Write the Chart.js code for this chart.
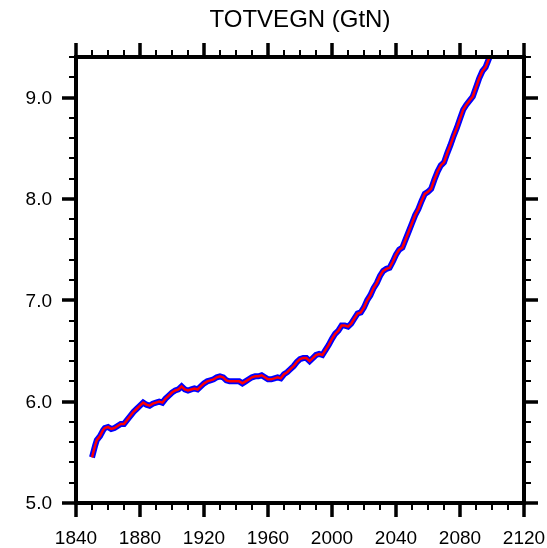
<!DOCTYPE html>
<html>
<head>
<meta charset="utf-8">
<script src="https://cdn.jsdelivr.net/npm/chart.js@4/dist/chart.umd.min.js"></script>
<style>
  html, body { margin: 0; padding: 0; background: #ffffff; }
  #wrap { width: 547px; height: 548px; position: relative; }
</style>
</head>
<body>
<div id="wrap"><canvas id="c" width="547" height="548"></canvas></div>
<script>
const chartTitle = "TOTVEGN (GtN)";
const years = [1850,1852,1853,1855,1857,1858,1860,1862,1864,1866,1868,1870,1872,1874,1876,1878,1880,1882,1884,1886,1888,1890,1892,1894,1896,1898,1900,1902,1904,1906,1908,1910,1912,1914,1916,1918,1920,1922,1924,1926,1928,1930,1932,1934,1936,1938,1940,1942,1944,1946,1948,1950,1952,1954,1956,1958,1960,1962,1964,1966,1968,1970,1972,1974,1976,1978,1980,1982,1984,1986,1988,1990,1992,1994,1996,1998,2000,2002,2004,2006,2008,2010,2012,2014,2016,2018,2020,2022,2024,2026,2028,2030,2032,2034,2036,2038,2040,2042,2044,2046,2048,2050,2052,2054,2056,2058,2060,2062,2064,2066,2068,2070,2072,2074,2076,2078,2080,2082,2084,2086,2088,2090,2092,2094,2096,2098,2100];
const totvegn = [5.45,5.57,5.62,5.66,5.72,5.74,5.75,5.73,5.74,5.76,5.78,5.78,5.82,5.86,5.90,5.93,5.96,5.99,5.97,5.96,5.98,5.99,6.00,5.99,6.03,6.06,6.09,6.11,6.12,6.15,6.12,6.11,6.12,6.13,6.12,6.15,6.18,6.20,6.21,6.22,6.24,6.25,6.24,6.21,6.20,6.20,6.20,6.20,6.18,6.20,6.22,6.24,6.25,6.25,6.26,6.24,6.22,6.22,6.23,6.24,6.23,6.27,6.29,6.32,6.35,6.39,6.42,6.43,6.43,6.40,6.43,6.46,6.47,6.46,6.51,6.56,6.62,6.67,6.70,6.75,6.75,6.74,6.77,6.82,6.87,6.88,6.93,7.00,7.05,7.12,7.17,7.24,7.29,7.31,7.32,7.38,7.45,7.50,7.52,7.60,7.68,7.76,7.84,7.90,7.98,8.05,8.07,8.10,8.19,8.27,8.33,8.36,8.45,8.53,8.62,8.70,8.79,8.88,8.93,8.97,9.01,9.10,9.19,9.26,9.30,9.38,9.45];
const xMajorTicks = [1840,1880,1920,1960,2000,2040,2080,2120];
const xMinorStep = 10;
const yMajorTicks = [5.0,6.0,7.0,8.0,9.0];
const yMinorStep = 0.2;
const xRange = [1840, 2120];
const yRange = [5.0, 9.4];

const points = years.map((y, i) => ({ x: y, y: totvegn[i] }));
const FONT = '"Liberation Sans", Arial, Helvetica, sans-serif';

const framePlugin = {
  id: 'frame',
  afterDatasetsDraw(chart) {
    const ctx = chart.ctx;
    const a = chart.chartArea;
    const xs = chart.scales.x, ys = chart.scales.y;
    ctx.save();
    ctx.strokeStyle = '#000';
    ctx.lineCap = 'butt';
    ctx.lineWidth = 2;
    for (let v = xRange[0]; v <= xRange[1] + 1e-6; v += xMinorStep) {
      if (xMajorTicks.includes(v)) continue;
      const px = Math.round(xs.getPixelForValue(v));
      ctx.beginPath();
      ctx.moveTo(px, a.bottom); ctx.lineTo(px, a.bottom + 7);
      ctx.moveTo(px, a.top); ctx.lineTo(px, a.top - 7);
      ctx.stroke();
    }
    for (let k = 0; ; k++) {
      const v = +(yRange[0] + k * yMinorStep).toFixed(4);
      if (v > yRange[1] + 1e-6) break;
      if (yMajorTicks.some(m => Math.abs(m - v) < 1e-6)) continue;
      const py = Math.round(ys.getPixelForValue(v));
      ctx.beginPath();
      ctx.moveTo(a.left, py); ctx.lineTo(a.left - 7, py);
      ctx.moveTo(a.right, py); ctx.lineTo(a.right + 7, py);
      ctx.stroke();
    }
    ctx.lineWidth = 3.5;
    xMajorTicks.forEach(v => {
      const px = Math.round(xs.getPixelForValue(v));
      ctx.beginPath();
      ctx.moveTo(px, a.bottom); ctx.lineTo(px, a.bottom + 14);
      ctx.moveTo(px, a.top); ctx.lineTo(px, a.top - 14);
      ctx.stroke();
    });
    yMajorTicks.forEach(v => {
      const py = Math.round(ys.getPixelForValue(v));
      ctx.beginPath();
      ctx.moveTo(a.left, py); ctx.lineTo(a.left - 14, py);
      ctx.moveTo(a.right, py); ctx.lineTo(a.right + 14, py);
      ctx.stroke();
    });
    ctx.lineWidth = 4;
    ctx.strokeRect(a.left, a.top, a.right - a.left, a.bottom - a.top);
    ctx.fillStyle = '#000';
    ctx.font = '19px ' + FONT;
    ctx.textAlign = 'center';
    ctx.textBaseline = 'alphabetic';
    xMajorTicks.forEach(v => {
      ctx.fillText(String(v), xs.getPixelForValue(v), 544);
    });
    ctx.textAlign = 'right';
    ctx.textBaseline = 'middle';
    yMajorTicks.forEach(v => {
      ctx.fillText(v.toFixed(1), 52, ys.getPixelForValue(v) + 1);
    });
    ctx.font = '24px ' + FONT;
    ctx.textAlign = 'center';
    ctx.textBaseline = 'alphabetic';
    ctx.fillText(chartTitle, (a.left + a.right) / 2, 27);
    ctx.restore();
  }
};

new Chart(document.getElementById('c'), {
  type: 'line',
  data: {
    datasets: [
      { label: 'red', data: points, borderColor: '#ff0000', borderWidth: 2.5, pointRadius: 0, tension: 0, fill: false, clip: 0, order: 0 },
      { label: 'blue', data: points, borderColor: '#0000ff', borderWidth: 6, pointRadius: 0, tension: 0, fill: false, clip: 0, order: 1 }
    ]
  },
  options: {
    responsive: false,
    animation: false,
    events: [],
    layout: { padding: { left: 76, right: 23, top: 57, bottom: 45 } },
    plugins: { legend: { display: false }, title: { display: false }, tooltip: { enabled: false } },
    scales: {
      x: { type: 'linear', min: xRange[0], max: xRange[1], display: false },
      y: { type: 'linear', min: yRange[0], max: yRange[1], display: false }
    }
  },
  plugins: [framePlugin]
});
</script>
</body>
</html>
